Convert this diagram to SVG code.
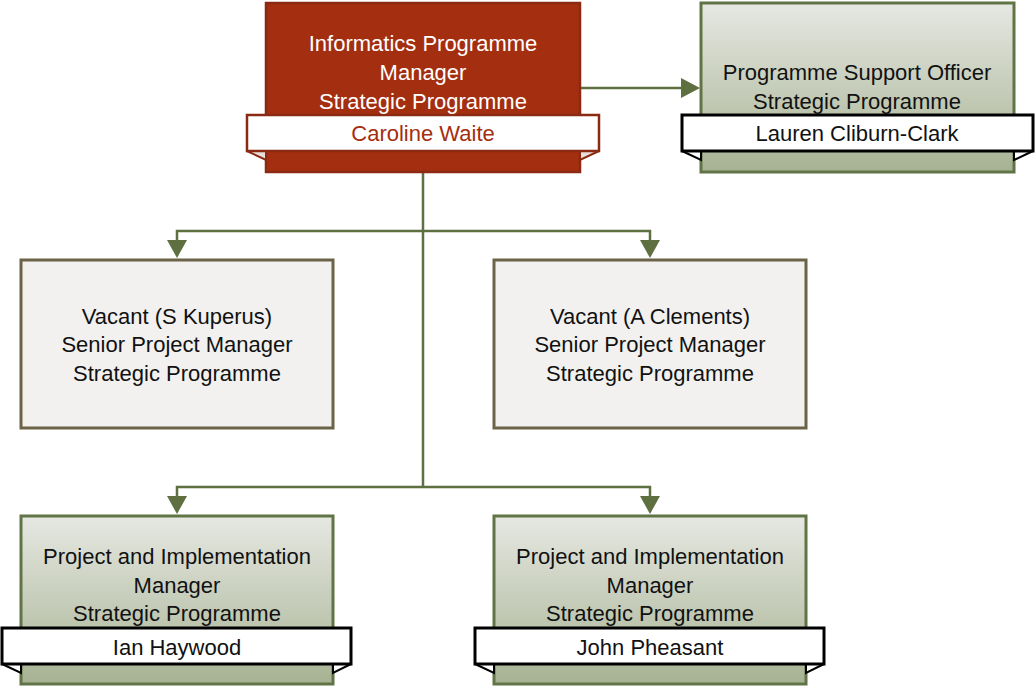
<svg xmlns="http://www.w3.org/2000/svg" width="1035" height="687" viewBox="0 0 1035 687">
<defs>
<linearGradient id="gg" x1="0" y1="0" x2="0" y2="1">
<stop offset="0" stop-color="#e6e8e2"/>
<stop offset="1" stop-color="#a7b293"/>
</linearGradient>
<style>
text{font-family:"Liberation Sans",Arial,sans-serif;font-size:22px;text-anchor:middle;fill:#111}
.red{fill:#a42e10;stroke:#8a2a12;stroke-width:2.5}
.green{fill:url(#gg);stroke:#617446;stroke-width:3}
.grey{fill:#f2f1ef;stroke:#6b6347;stroke-width:3}
.bar{fill:#fff;stroke:#000;stroke-width:3}
.rbar{fill:#fff;stroke:#8a2a12;stroke-width:2.5}
.tab{fill:#fff;stroke:#000;stroke-width:2}
.rtab{fill:#e8e0dc;stroke:#8a2a12;stroke-width:2}
.wt{fill:#fff}
.rt{fill:#a42e10}
.conn{fill:none;stroke:#5e7040;stroke-width:2.5}
.head{fill:#5e7040}
</style>
</defs>
<g id="connectors">
<path class="conn" d="M580,88 H682"/>
<path class="head" d="M681,78 L700,88 L681,98 z"/>
<path class="conn" d="M423,172 V487"/>
<path class="conn" d="M177,240 V231 H650 V240"/>
<path class="head" d="M167,240 L187,240 L177,258 z"/>
<path class="head" d="M640,240 L660,240 L650,258 z"/>
<path class="conn" d="M177,496 V487 H650 V496"/>
<path class="head" d="M167,496 L187,496 L177,514 z"/>
<path class="head" d="M640,496 L660,496 L650,514 z"/>
</g>
<g id="node-manager">
<rect class="red" x="266" y="3" width="314" height="169"/>
<polygon class="rtab" points="247,151 266,151 266,160"/>
<polygon class="rtab" points="599,151 580,151 580,160"/>
<rect class="rbar" x="247" y="115" width="352" height="36"/>
<text class="wt" x="423" y="51">Informatics Programme</text>
<text class="wt" x="423" y="80">Manager</text>
<text class="wt" x="423" y="109">Strategic Programme</text>
<text class="rt" x="423" y="141">Caroline Waite</text>
</g>
<g id="node-support">
<rect class="green" x="701" y="3" width="313" height="169"/>
<polygon class="tab" points="682,151 701,151 701,160"/>
<polygon class="tab" points="1033,151 1014,151 1014,160"/>
<rect class="bar" x="682" y="115" width="351" height="36"/>
<text x="857" y="80">Programme Support Officer</text>
<text x="857" y="109">Strategic Programme</text>
<text x="857" y="141">Lauren Cliburn-Clark</text>
</g>
<g id="node-kuperus">
<rect class="grey" x="21" y="260" width="312" height="168"/>
<text x="177" y="324">Vacant (S Kuperus)</text>
<text x="177" y="352">Senior Project Manager</text>
<text x="177" y="381">Strategic Programme</text>
</g>
<g id="node-clements">
<rect class="grey" x="494" y="260" width="312" height="168"/>
<text x="650" y="324">Vacant (A Clements)</text>
<text x="650" y="352">Senior Project Manager</text>
<text x="650" y="381">Strategic Programme</text>
</g>
<g id="node-haywood">
<rect class="green" x="21" y="516" width="312" height="168"/>
<polygon class="tab" points="2,664 21,664 21,673"/>
<polygon class="tab" points="351,664 333,664 333,673"/>
<rect class="bar" x="2" y="628" width="349" height="36"/>
<text x="177" y="564">Project and Implementation</text>
<text x="177" y="593">Manager</text>
<text x="177" y="621">Strategic Programme</text>
<text x="177" y="655">Ian Haywood</text>
</g>
<g id="node-pheasant">
<rect class="green" x="494" y="516" width="312" height="168"/>
<polygon class="tab" points="475,664 494,664 494,673"/>
<polygon class="tab" points="824,664 806,664 806,673"/>
<rect class="bar" x="475" y="628" width="349" height="36"/>
<text x="650" y="564">Project and Implementation</text>
<text x="650" y="593">Manager</text>
<text x="650" y="621">Strategic Programme</text>
<text x="650" y="655">John Pheasant</text>
</g>
</svg>
